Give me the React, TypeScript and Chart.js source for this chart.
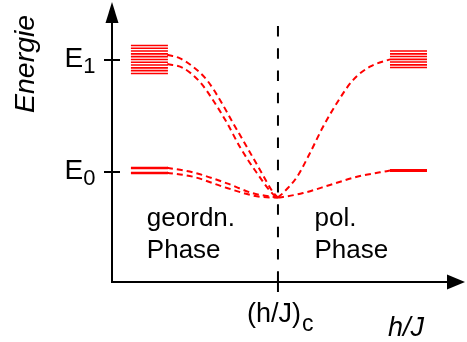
import React, { useEffect, useRef } from "react";
import { Chart, registerables } from "chart.js";

Chart.register(...registerables);

// ---- data (x in units of h/J with (h/J)_c = 1, y in units with E0 = 0, E1 = 1) ----
const X_MIN = 0;
const X_MAX = 2.127;
const Y_MIN = -0.982;
const Y_MAX = 1.518;

const CRIT_X = 1;
const CRIT_LINE_TOP = 1.304;

const Y_TICK_VALUES = [0, 1];
const Y_TICK_LABELS = ["0", "1"]; // subscripts of "E"

const LEFT_BAR_X = [0.114, 0.337];
const RIGHT_BAR_X = [1.675, 1.898];
const LEFT_E1_LEVELS = [1.13, 1.105, 1.08, 1.055, 1.03, 1.005, 0.98, 0.955, 0.93, 0.905, 0.88];
const RIGHT_E1_LEVELS = [1.08, 1.055, 1.031, 1.006, 0.982, 0.957, 0.933];
const LEFT_E0_LEVELS = [0.036, -0.009];
const RIGHT_E0_LEVELS = [0.013];

const LEFT_E1_UPPER_X = [0.333, 0.41, 0.488, 0.572, 0.651, 0.729, 0.813, 0.892, 0.97, 1.0];
const LEFT_E1_UPPER_Y = [1.047, 1.015, 0.94, 0.821, 0.643, 0.438, 0.223, 0.018, -0.179, -0.228];
const LEFT_E1_LOWER_X = [0.333, 0.428, 0.53, 0.608, 0.693, 0.771, 0.873, 0.982, 1.0];
const LEFT_E1_LOWER_Y = [0.964, 0.929, 0.804, 0.643, 0.438, 0.223, -0.009, -0.215, -0.228];
const LEFT_E0_UPPER_X = [0.331, 0.488, 0.693, 0.849, 1.0];
const LEFT_E0_UPPER_Y = [0.038, -0.003, -0.101, -0.19, -0.228];
const LEFT_E0_LOWER_X = [0.331, 0.488, 0.693, 0.892, 1.0];
const LEFT_E0_LOWER_Y = [-0.006, -0.042, -0.143, -0.221, -0.228];
const RIGHT_E1_X = [1.0, 1.03, 1.114, 1.193, 1.271, 1.355, 1.452, 1.554, 1.675];
const RIGHT_E1_Y = [-0.228, -0.188, -0.045, 0.17, 0.402, 0.616, 0.821, 0.94, 1.006];
const RIGHT_E0_X = [1.0, 1.03, 1.151, 1.313, 1.476, 1.614, 1.675];
const RIGHT_E0_Y = [-0.228, -0.223, -0.188, -0.116, -0.042, -0.003, 0.013];

const Y_AXIS_TITLE = "Energie";
const X_AXIS_TITLE = "h/J";
const CRIT_LABEL_MAIN = "(h/J)";
const CRIT_LABEL_SUB = "c";
const LEFT_PHASE = ["geordn.", "Phase"];
const RIGHT_PHASE = ["pol.", "Phase"];
const LEFT_PHASE_POS = { x: 0.21, y: [-0.48, -0.77] };
const RIGHT_PHASE_POS = { x: 1.22, y: [-0.48, -0.77] };

const RED = "#ff0000";
const FONT = "'Liberation Sans', Arial, sans-serif";

const zip = (xs: number[], ys: number[]) => xs.map((x, i) => ({ x, y: ys[i] }));

const levelDataset = (levels: number[], xr: number[], width: number) => {
  const data: { x: number; y: number | null }[] = [];
  levels.forEach((lv) => {
    data.push({ x: xr[0], y: lv });
    data.push({ x: xr[1], y: lv });
    data.push({ x: xr[1], y: null });
  });
  return {
    data,
    borderColor: RED,
    borderWidth: width,
    pointRadius: 0,
    spanGaps: false,
    clip: false as any,
  };
};

const curveDataset = (xs: number[], ys: number[]) => ({
  data: zip(xs, ys),
  borderColor: RED,
  borderWidth: 2,
  borderDash: [6, 4],
  pointRadius: 0,
  cubicInterpolationMode: "monotone" as const,
  clip: false as any,
});

const axesPlugin = {
  id: "physAxes",
  afterDatasetsDraw(chart: any) {
    const ctx = chart.ctx as CanvasRenderingContext2D;
    const xs = chart.scales.x;
    const ys = chart.scales.y;
    const ox = xs.getPixelForValue(X_MIN);
    const oy = ys.getPixelForValue(Y_MIN);
    const topY = ys.getPixelForValue(Y_MAX);
    const rightX = xs.getPixelForValue(X_MAX);
    ctx.save();
    ctx.strokeStyle = "#000";
    ctx.fillStyle = "#000";
    ctx.lineWidth = 2;
    // y axis
    ctx.beginPath();
    ctx.moveTo(ox, oy + 1);
    ctx.lineTo(ox, topY + 18);
    ctx.stroke();
    ctx.beginPath();
    ctx.moveTo(ox, topY);
    ctx.lineTo(ox - 6.5, topY + 21);
    ctx.lineTo(ox + 6.5, topY + 21);
    ctx.closePath();
    ctx.fill();
    // x axis
    ctx.beginPath();
    ctx.moveTo(ox - 1, oy);
    ctx.lineTo(rightX - 16, oy);
    ctx.stroke();
    ctx.beginPath();
    ctx.moveTo(rightX, oy);
    ctx.lineTo(rightX - 18, oy - 7.5);
    ctx.lineTo(rightX - 18, oy + 7.5);
    ctx.closePath();
    ctx.fill();
    // y ticks + labels
    Y_TICK_VALUES.forEach((v, i) => {
      const py = ys.getPixelForValue(v);
      ctx.beginPath();
      ctx.moveTo(ox - 8, py);
      ctx.lineTo(ox + 8, py);
      ctx.stroke();
      ctx.textAlign = "left";
      ctx.textBaseline = "alphabetic";
      ctx.font = `28px ${FONT}`;
      const ex = ox - 47.5;
      ctx.fillText("E", ex, py + 7);
      const w = ctx.measureText("E").width;
      ctx.font = `22px ${FONT}`;
      ctx.fillText(Y_TICK_LABELS[i], ex + w, py + 13);
    });
    // critical tick
    const cx = xs.getPixelForValue(CRIT_X);
    ctx.beginPath();
    ctx.moveTo(cx, oy - 2);
    ctx.lineTo(cx, oy + 10);
    ctx.stroke();
    // critical label
    ctx.font = `27px ${FONT}`;
    ctx.textAlign = "left";
    const cw = ctx.measureText(CRIT_LABEL_MAIN).width;
    const clx = cx - 31;
    ctx.fillText(CRIT_LABEL_MAIN, clx, oy + 39.7);
    ctx.font = `23px ${FONT}`;
    ctx.fillText(CRIT_LABEL_SUB, clx + cw + 1, oy + 49);
    // x title
    ctx.font = `italic 27px ${FONT}`;
    ctx.fillText(X_AXIS_TITLE, xs.getPixelForValue(1.663), oy + 54);
    // y title
    ctx.save();
    ctx.translate(34, ys.getPixelForValue(0.965));
    ctx.rotate(-Math.PI / 2);
    ctx.textAlign = "center";
    ctx.font = `italic 28.5px ${FONT}`;
    ctx.fillText(Y_AXIS_TITLE, 0, 0);
    ctx.restore();
    // phase labels
    ctx.font = `26px ${FONT}`;
    ctx.textAlign = "left";
    LEFT_PHASE.forEach((t, i) =>
      ctx.fillText(t, xs.getPixelForValue(LEFT_PHASE_POS.x), ys.getPixelForValue(LEFT_PHASE_POS.y[i]))
    );
    RIGHT_PHASE.forEach((t, i) =>
      ctx.fillText(t, xs.getPixelForValue(RIGHT_PHASE_POS.x), ys.getPixelForValue(RIGHT_PHASE_POS.y[i]))
    );
    ctx.restore();
  },
};

export default function App() {
  const ref = useRef<HTMLCanvasElement | null>(null);
  useEffect(() => {
    if (!ref.current) return;
    const chart = new Chart(ref.current, {
      type: "line",
      data: {
        datasets: [
          {
            data: [
              { x: CRIT_X, y: CRIT_LINE_TOP },
              { x: CRIT_X, y: Y_MIN },
            ],
            borderColor: "#000",
            borderWidth: 2,
            borderDash: [10.5, 11.8],
            pointRadius: 0,
            clip: false as any,
          },
          levelDataset(LEFT_E1_LEVELS, LEFT_BAR_X, 1.6),
          levelDataset(RIGHT_E1_LEVELS, RIGHT_BAR_X, 1.6),
          levelDataset(LEFT_E0_LEVELS, LEFT_BAR_X, 2.4),
          levelDataset(RIGHT_E0_LEVELS, RIGHT_BAR_X, 3),
          curveDataset(LEFT_E1_UPPER_X, LEFT_E1_UPPER_Y),
          curveDataset(LEFT_E1_LOWER_X, LEFT_E1_LOWER_Y),
          curveDataset(LEFT_E0_UPPER_X, LEFT_E0_UPPER_Y),
          curveDataset(LEFT_E0_LOWER_X, LEFT_E0_LOWER_Y),
          curveDataset(RIGHT_E1_X, RIGHT_E1_Y),
          curveDataset(RIGHT_E0_X, RIGHT_E0_Y),
        ] as any,
      },
      options: {
        animation: false,
        responsive: false,
        devicePixelRatio: 1,
        layout: { padding: { left: 112, right: 2, top: 2, bottom: 60 } },
        plugins: { legend: { display: false }, tooltip: { enabled: false } },
        scales: {
          x: { type: "linear", min: X_MIN, max: X_MAX, display: false },
          y: { type: "linear", min: Y_MIN, max: Y_MAX, display: false },
        },
      },
      plugins: [axesPlugin],
    });
    return () => chart.destroy();
  }, []);
  return (
    <div style={{ position: "fixed", left: 0, top: 0, width: 467, height: 342, background: "#fff" }}>
      <canvas ref={ref} width={467} height={342} />
    </div>
  );
}
